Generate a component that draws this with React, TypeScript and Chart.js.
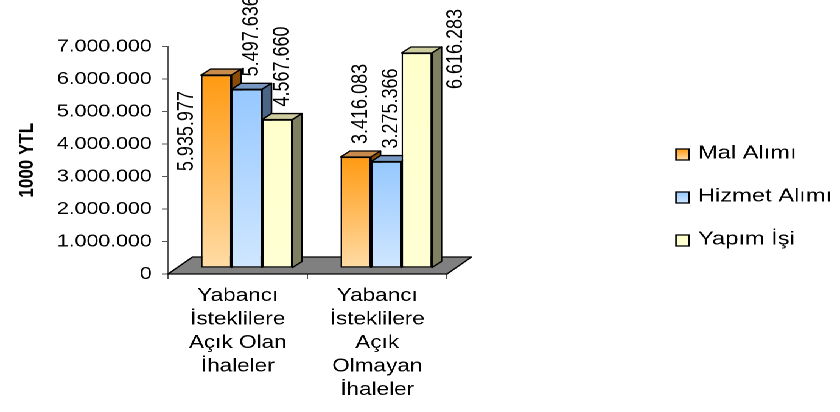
import React, { useEffect, useRef } from 'react';
import { Chart, registerables } from 'chart.js';

Chart.register(...registerables);

// ---- chart data ----
const categories: string[][] = [
  ['Yabancı', 'İsteklilere', 'Açık Olan', 'İhaleler'],
  ['Yabancı', 'İsteklilere', 'Açık', 'Olmayan', 'İhaleler'],
];
const seriesNames = ['Mal Alımı', 'Hizmet Alımı', 'Yapım İşi'];
const malAlimi = [5935977, 3416083];
const hizmetAlimi = [5497636, 3275366];
const yapimIsi = [4567660, 6616283];
const yAxisTitle = '1000 YTL';
const yMin = 0;
const yMax = 7000000;
const yStep = 1000000;

// ---- drawing geometry ----
// The canvas is painted narrow and widened with a CSS transform, so all
// text and shapes come out broad, like the original office chart.
const CANVAS_W = 690;
const CANVAS_H = 412;
const STRETCH = 840 / CANVAS_W;
const wx = (v: number) => v / STRETCH;

const FONT = '"Liberation Sans", Arial, Helvetica, sans-serif';

const AREA = { left: wx(168), right: wx(447), top: 46.5, bottom: 274 };

// columns stand a little behind the front edge of the floor
const SHIFT_X = wx(9);
const SHIFT_Y = -6;
// depth of every column
const DEPTH_X = wx(9.5);
const DEPTH_Y = -6;
// depth of the floor
const FLOOR_X = wx(24.5);
const FLOOR_Y = -17;

const seriesStyles = [
  { front: ['#FF9A12', '#FFDCA6'], top: '#C98B4B', side: '#8B4B08' },
  { front: ['#96C8FF', '#D0E7FF'], top: '#7698C2', side: '#4B6586' },
  { front: ['#FFFFCC', '#FFFFD4'], top: '#CDCDA0', side: '#7F7F61' },
];

// value labels that sit beside their column instead of above it
const sideLabels: Record<string, 'left' | 'right'> = { '0:0': 'left', '2:1': 'right' };

const fmt = (v: number) => String(Math.round(v)).replace(/\B(?=(\d{3})+(?!\d))/g, '.');

const frontFill = (i: number) => (c: any) => {
  const s = seriesStyles[i];
  const chart = c.chart;
  if (c.type !== 'data' || !chart.chartArea || !chart.scales.y) return s.front[0];
  const y = chart.scales.y;
  const top = y.getPixelForValue(c.raw);
  const base = y.getPixelForValue(0);
  const g = chart.ctx.createLinearGradient(0, top, 0, base);
  g.addColorStop(0, s.front[0]);
  g.addColorStop(1, s.front[1]);
  return g;
};

function face(ctx: CanvasRenderingContext2D, pts: number[][], fill: string) {
  ctx.beginPath();
  ctx.moveTo(pts[0][0], pts[0][1]);
  for (let k = 1; k < pts.length; k++) ctx.lineTo(pts[k][0], pts[k][1]);
  ctx.closePath();
  ctx.fillStyle = fill;
  ctx.fill();
  ctx.lineWidth = 1.3;
  ctx.lineJoin = 'round';
  ctx.strokeStyle = '#000';
  ctx.stroke();
}

const columns3d = {
  id: 'columns3d',
  beforeDatasetsDraw(chart: any) {
    const { ctx } = chart;
    const a = chart.chartArea;
    ctx.save();
    face(
      ctx,
      [
        [a.left, a.bottom],
        [a.right, a.bottom],
        [a.right + FLOOR_X, a.bottom + FLOOR_Y],
        [a.left + FLOOR_X, a.bottom + FLOOR_Y],
      ],
      '#808080'
    );
    ctx.restore();
  },
  // columns are painted together below, left to right, so that each one
  // hides the side of its left neighbour
  beforeDatasetDraw() {
    return false;
  },
  afterDatasetsDraw(chart: any) {
    const ctx: CanvasRenderingContext2D = chart.ctx;
    const metas = chart.data.datasets.map((_: any, i: number) => chart.getDatasetMeta(i));
    const n = chart.data.labels.length;
    ctx.save();
    ctx.translate(SHIFT_X, SHIFT_Y);
    for (let j = 0; j < n; j++) {
      for (let i = 0; i < metas.length; i++) {
        const el = metas[i].data[j];
        if (!el) continue;
        el.draw(ctx);
        const { x, y, base, width } = el.getProps(['x', 'y', 'base', 'width'], true);
        const l = x - width / 2;
        const r = x + width / 2;
        const t = Math.min(y, base);
        const b = Math.max(y, base);
        const s = seriesStyles[i];
        face(ctx, [[l, t], [l + DEPTH_X, t + DEPTH_Y], [r + DEPTH_X, t + DEPTH_Y], [r, t]], s.top);
        face(ctx, [[r, t], [r + DEPTH_X, t + DEPTH_Y], [r + DEPTH_X, b + DEPTH_Y], [r, b]], s.side);
      }
    }
    ctx.restore();

    // rotated value labels
    ctx.save();
    ctx.fillStyle = '#000';
    ctx.font = `18px ${FONT}`;
    for (let i = 0; i < metas.length; i++) {
      const data = chart.data.datasets[i].data as number[];
      metas[i].data.forEach((el: any, j: number) => {
        const { x, y, width } = el.getProps(['x', 'y', 'width'], true);
        const frontTop = y + SHIFT_Y;
        const l = x - width / 2 + SHIFT_X;
        const r = x + width / 2 + SHIFT_X;
        const side = sideLabels[`${i}:${j}`];
        let ax: number;
        let ay: number;
        let align: CanvasTextAlign;
        if (side === 'left') {
          ax = l - wx(14);
          ay = frontTop + 16;
          align = 'right';
        } else if (side === 'right') {
          ax = r + wx(24);
          ay = frontTop - 4;
          align = 'center';
        } else {
          ax = x + SHIFT_X + wx(5);
          ay = frontTop - 13;
          align = 'left';
        }
        ctx.save();
        ctx.translate(ax, ay);
        ctx.rotate(-Math.PI / 2);
        ctx.textAlign = align;
        ctx.textBaseline = 'middle';
        ctx.fillText(fmt(data[j]), 0, 0);
        ctx.restore();
      });
    }
    ctx.restore();
  },
  afterDraw(chart: any) {
    // legend on the right
    const ctx: CanvasRenderingContext2D = chart.ctx;
    ctx.save();
    ctx.font = `18px ${FONT}`;
    ctx.textBaseline = 'middle';
    ctx.textAlign = 'left';
    chart.data.datasets.forEach((ds: any, i: number) => {
      const cy = 153.5 + i * 43;
      const bx = wx(676);
      const bw = wx(13);
      const by = cy - 4.5;
      const s = seriesStyles[i];
      const g = ctx.createLinearGradient(0, by, 0, by + 11);
      g.addColorStop(0, s.front[0]);
      g.addColorStop(1, s.front[1]);
      ctx.fillStyle = g;
      ctx.fillRect(bx, by, bw, 11);
      ctx.lineWidth = 1.3;
      ctx.strokeStyle = '#000';
      ctx.strokeRect(bx, by, bw, 11);
      ctx.fillStyle = '#000';
      ctx.save();
      ctx.translate(wx(698), cy);
      ctx.scale(1.08, 1);
      ctx.fillText(ds.label, 0, 0);
      ctx.restore();
    });
    ctx.restore();
  },
};

export default function App() {
  const canvasRef = useRef<HTMLCanvasElement>(null);

  useEffect(() => {
    if (!canvasRef.current) return;
    Chart.defaults.font.family = FONT;
    const series = [malAlimi, hizmetAlimi, yapimIsi];
    const chart = new Chart(canvasRef.current, {
      type: 'bar',
      data: {
        labels: categories,
        datasets: series.map((values, i) => ({
          label: seriesNames[i],
          data: values,
          backgroundColor: frontFill(i),
          borderColor: '#000',
          borderWidth: 1.3,
          borderSkipped: false,
          categoryPercentage: 0.656,
          barPercentage: 1,
          clip: false,
        })),
      },
      options: {
        responsive: false,
        animation: false,
        devicePixelRatio: 2,
        layout: {
          padding: {
            left: 0,
            top: AREA.top,
            right: CANVAS_W - AREA.right,
            bottom: 0,
          },
        },
        plugins: {
          legend: { display: false },
          tooltip: { enabled: false },
        },
        scales: {
          x: {
            type: 'category',
            offset: true,
            grid: {
              display: true,
              drawOnChartArea: false,
              drawTicks: true,
              tickLength: 5,
              color: '#555',
              offset: true,
            },
            border: { display: false },
            ticks: {
              color: '#000',
              font: { size: 18.5, lineHeight: 1.27 },
              padding: 5,
              maxRotation: 0,
              autoSkip: false,
            },
            afterFit: (scale: any) => {
              scale.height = CANVAS_H - AREA.bottom;
            },
          },
          y: {
            min: yMin,
            max: yMax,
            grid: {
              drawOnChartArea: false,
              drawTicks: true,
              tickLength: 5,
              color: '#555',
            },
            border: { display: true, color: '#555', width: 1 },
            ticks: {
              stepSize: yStep,
              color: '#000',
              font: { size: 17.5 },
              padding: 8.4,
              callback: (v: any) => fmt(Number(v)),
            },
            title: {
              display: true,
              text: yAxisTitle,
              color: '#000',
              font: { size: 17, weight: 'bold' },
              padding: { top: 12, bottom: 0 },
            },
            afterFit: (scale: any) => {
              scale.width = AREA.left;
            },
          },
        },
      },
      plugins: [columns3d],
    } as any);
    return () => chart.destroy();
  }, []);

  return (
    <div
      style={{
        position: 'fixed',
        left: 0,
        top: 0,
        width: CANVAS_W,
        height: CANVAS_H,
        background: '#fff',
        transform: `scaleX(${STRETCH})`,
        transformOrigin: '0 0',
      }}
    >
      <canvas ref={canvasRef} width={CANVAS_W} height={CANVAS_H} />
    </div>
  );
}
